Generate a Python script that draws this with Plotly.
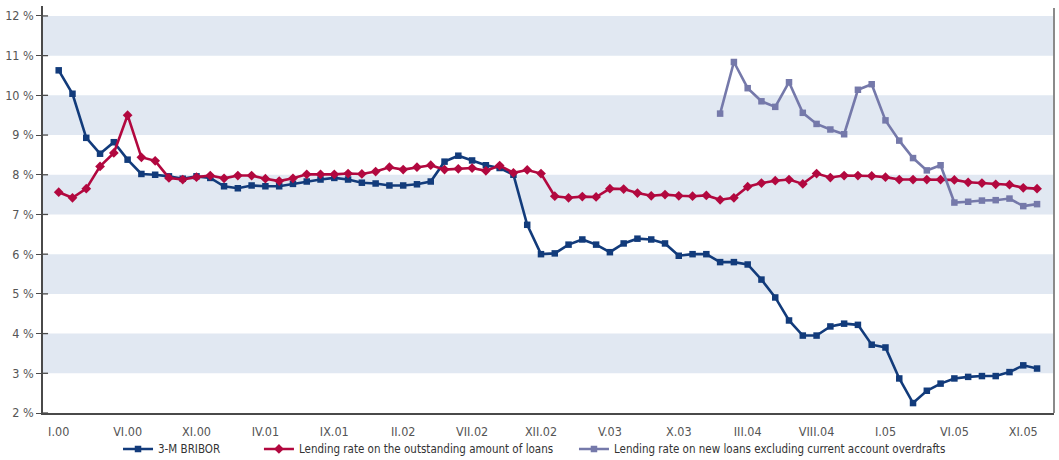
import plotly.graph_objects as go

# Monthly observations, January 2000 - December 2005
ROMAN = ["I", "II", "III", "IV", "V", "VI", "VII", "VIII", "IX", "X", "XI", "XII"]
months = [f"{m}.{y:02d}" for y in range(0, 6) for m in ROMAN]

# 3-month BRIBOR (%)
bribor = [
    10.63, 10.04, 8.93, 8.53, 8.82, 8.38, 8.02, 8.00, 7.96, 7.90, 7.96, 7.92,
    7.71, 7.66, 7.73, 7.71, 7.71, 7.77, 7.83, 7.88, 7.92, 7.88, 7.80, 7.78,
    7.73, 7.73, 7.76, 7.83, 8.33, 8.48, 8.36, 8.24, 8.17, 8.00, 6.74, 6.00,
    6.02, 6.24, 6.37, 6.24, 6.05, 6.27, 6.39, 6.37, 6.27, 5.96, 6.00, 6.00,
    5.80, 5.80, 5.74, 5.36, 4.91, 4.33, 3.95, 3.95, 4.18, 4.25, 4.22, 3.72,
    3.65, 2.87, 2.25, 2.56, 2.74, 2.87, 2.91, 2.93, 2.93, 3.03, 3.20, 3.12,
]

# Lending rate on the outstanding amount of loans (%)
outstanding = [
    7.56, 7.42, 7.65, 8.21, 8.55, 9.50, 8.44, 8.35, 7.92, 7.88, 7.94, 7.98,
    7.91, 7.98, 7.98, 7.90, 7.84, 7.91, 8.01, 8.01, 8.01, 8.03, 8.02, 8.08,
    8.19, 8.13, 8.19, 8.24, 8.13, 8.15, 8.17, 8.10, 8.23, 8.05, 8.12, 8.03,
    7.46, 7.42, 7.45, 7.44, 7.65, 7.64, 7.54, 7.47, 7.50, 7.47, 7.46, 7.48,
    7.37, 7.42, 7.70, 7.79, 7.85, 7.88, 7.77, 8.03, 7.93, 7.98, 7.98, 7.97,
    7.94, 7.88, 7.88, 7.88, 7.88, 7.87, 7.81, 7.79, 7.76, 7.75, 7.67, 7.65,
]

# Lending rate on new loans excluding current account overdrafts (%), from I.04
new_loans_months = months[48:]
new_loans = [
    9.54, 10.84, 10.18, 9.85, 9.71, 10.33, 9.56, 9.28, 9.14, 9.02, 10.14, 10.28,
    9.37, 8.86, 8.42, 8.11, 8.24, 7.30, 7.32, 7.35, 7.36, 7.40, 7.21, 7.26,
]

x_ticks = months[::5]
y_ticks = list(range(2, 13))
y_tick_text = [f"{v} %" for v in y_ticks]

BLUE = "#123b7b"
RED = "#b2083f"
PURPLE = "#7579aa"
BAND = "#e1e8f2"
FONT = "DejaVu Sans Condensed, Liberation Sans Narrow, sans-serif"

fig = go.Figure()
fig.add_trace(go.Scatter(
    x=months, y=bribor, name="3-M BRIBOR", mode="lines+markers",
    line=dict(color=BLUE, width=2.6),
    marker=dict(symbol="square", size=6.5, color=BLUE),
    legend="legend",
))
fig.add_trace(go.Scatter(
    x=months, y=outstanding, name="Lending rate on the outstanding amount of loans",
    mode="lines+markers",
    line=dict(color=RED, width=2.6),
    marker=dict(symbol="diamond", size=7.5, color=RED),
    legend="legend2",
))
fig.add_trace(go.Scatter(
    x=new_loans_months, y=new_loans,
    name="Lending rate on new loans excluding current account overdrafts",
    mode="lines+markers",
    line=dict(color=PURPLE, width=2.6),
    marker=dict(symbol="square", size=6.5, color=PURPLE),
    legend="legend3",
))

shapes = []
# alternating horizontal bands
for lo in range(3, 12, 2):
    shapes.append(dict(type="rect", xref="x domain", yref="y", x0=0, x1=1,
                       y0=lo, y1=lo + 1, fillcolor=BAND, line_width=0, layer="below"))
# inner half of the y tick marks
for v in y_ticks:
    shapes.append(dict(type="line", xref="x domain", yref="y", x0=0, x1=0.005,
                       y0=v, y1=v, line=dict(color="#4a4a4a", width=1.3)))
# right frame line
shapes.append(dict(type="line", xref="x domain", yref="y domain", x0=1, x1=1,
                   y0=0, y1=0.995, line=dict(color="#8a8a8a", width=2)))


def legend_box(xpos):
    return dict(
        orientation="h", x=xpos, xanchor="left",
        yref="container", y=0.024, yanchor="middle",
        font=dict(family=FONT, size=11.5, color="#333333"),
        bgcolor="rgba(0,0,0,0)",
    )


fig.update_layout(
    width=1059, height=460,
    margin=dict(l=43, r=5, t=6, b=47, autoexpand=False),
    paper_bgcolor="white", plot_bgcolor="white",
    font=dict(family=FONT, size=12.5, color="#4d4d4d"),
    shapes=shapes,
    showlegend=True,
    legend=legend_box(0.0742),
    legend2=legend_box(0.2136),
    legend3=legend_box(0.5252),
    xaxis=dict(
        type="category", categoryorder="array", categoryarray=months,
        range=[-1.14, 72.23],
        tickmode="array", tickvals=x_ticks, ticktext=x_ticks,
        showgrid=False, zeroline=False, ticks="",
        showline=True, linecolor="#4a4a4a", linewidth=1.5,
        ticklabelstandoff=6,
        tickfont=dict(family=FONT, size=12.5, color="#555555"),
    ),
    yaxis=dict(
        range=[2, 12.25],
        tickmode="array", tickvals=y_ticks, ticktext=y_tick_text,
        showgrid=False, zeroline=False,
        ticks="outside", ticklen=5, tickwidth=1.3, tickcolor="#4a4a4a",
        showline=True, linecolor="#4a4a4a", linewidth=1.5,
        tickfont=dict(family=FONT, size=12.5, color="#555555"),
    ),
)

fig.write_html("out.html")
